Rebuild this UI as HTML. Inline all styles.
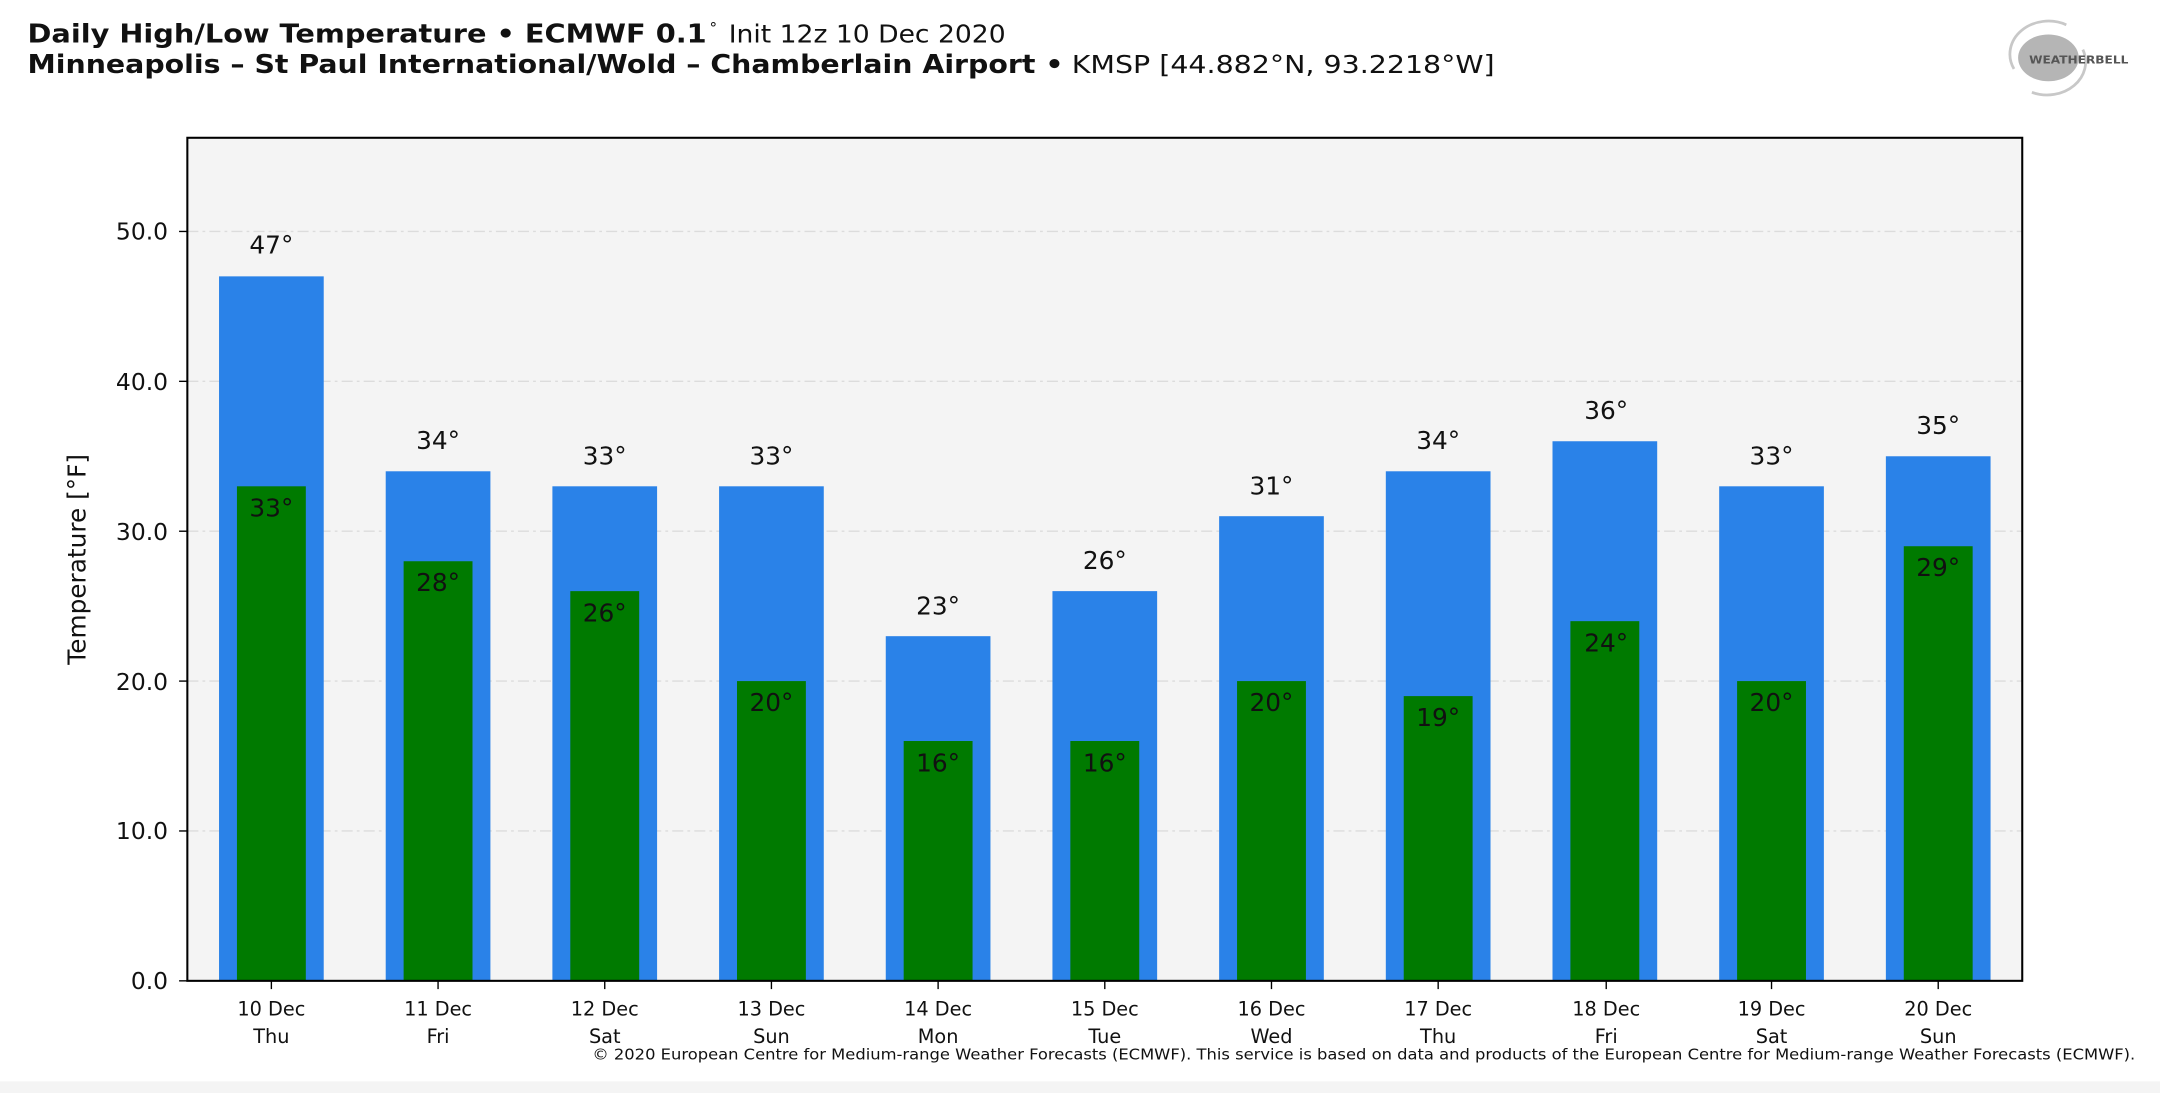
<!DOCTYPE html>
<html><head><meta charset="utf-8"><style>
html,body{margin:0;padding:0;background:#fff;}
svg{display:block;}
text{font-family:"DejaVu Sans","Liberation Sans",sans-serif;fill:#111;}
</style></head><body>
<svg width="2160" height="1093" viewBox="0 0 1568 793.4" xmlns="http://www.w3.org/2000/svg">
<rect x="0" y="0" width="1568" height="793.4" fill="#fff"/>
<rect x="0" y="785" width="1568" height="9" fill="#f4f4f4"/>
<text x="20" y="31" font-size="19" font-weight="bold" textLength="493" lengthAdjust="spacingAndGlyphs">Daily High/Low Temperature • ECMWF 0.1</text>
<text x="515" y="24" font-size="11">°</text>
<text x="529" y="31" font-size="18" textLength="201" lengthAdjust="spacingAndGlyphs">Init 12z 10 Dec 2020</text>
<text x="20" y="53" font-size="19" font-weight="bold" textLength="752" lengthAdjust="spacingAndGlyphs">Minneapolis – St Paul International/Wold – Chamberlain Airport •</text>
<text x="778" y="53" font-size="18" textLength="307" lengthAdjust="spacingAndGlyphs">KMSP [44.882°N, 93.2218°W]</text>
<ellipse cx="1487" cy="42" rx="22" ry="17" fill="#b5b5b5"/>
<path d="M1462 50 A28 24 0 0 1 1500 18" fill="none" stroke="#c8c8c8" stroke-width="2"/>
<path d="M1512 36 A28 24 0 0 1 1475 67" fill="none" stroke="#c8c8c8" stroke-width="2"/>
<text x="1473" y="46" font-size="8" font-weight="bold" style="fill:#555" font-family="Liberation Serif,serif" textLength="72" lengthAdjust="spacingAndGlyphs">WEATHERBELL</text>
<rect x="136" y="100" width="1332" height="612" fill="#f4f4f4"/>
<g stroke="#dcdcdc" stroke-width="1" stroke-dasharray="8,3,2,3">
<line x1="136" x2="1468" y1="168" y2="168"/>
<line x1="136" x2="1468" y1="276.8" y2="276.8"/>
<line x1="136" x2="1468" y1="385.6" y2="385.6"/>
<line x1="136" x2="1468" y1="494.4" y2="494.4"/>
<line x1="136" x2="1468" y1="603.2" y2="603.2"/>
</g>
<g fill="#2a82e8">
<rect x="159" y="200.6" width="76" height="511.4"/>
<rect x="280" y="342.1" width="76" height="369.9"/>
<rect x="401" y="353.0" width="76" height="359"/>
<rect x="522" y="353.0" width="76" height="359"/>
<rect x="643" y="461.8" width="76" height="250.2"/>
<rect x="764" y="429.1" width="76" height="282.9"/>
<rect x="885" y="374.7" width="76" height="337.3"/>
<rect x="1006" y="342.1" width="76" height="369.9"/>
<rect x="1127" y="320.3" width="76" height="391.7"/>
<rect x="1248" y="353.0" width="76" height="359"/>
<rect x="1369" y="331.2" width="76" height="380.8"/>
</g>
<g fill="#007a00">
<rect x="172" y="353.0" width="50" height="359"/>
<rect x="293" y="407.4" width="50" height="304.6"/>
<rect x="414" y="429.1" width="50" height="282.9"/>
<rect x="535" y="494.4" width="50" height="217.6"/>
<rect x="656" y="537.9" width="50" height="174.1"/>
<rect x="777" y="537.9" width="50" height="174.1"/>
<rect x="898" y="494.4" width="50" height="217.6"/>
<rect x="1019" y="505.3" width="50" height="206.7"/>
<rect x="1140" y="450.9" width="50" height="261.1"/>
<rect x="1261" y="494.4" width="50" height="217.6"/>
<rect x="1382" y="396.5" width="50" height="315.5"/>
</g>
<g font-size="18" text-anchor="middle">
<text x="197" y="184">47°</text>
<text x="318" y="326">34°</text>
<text x="439" y="337">33°</text>
<text x="560" y="337">33°</text>
<text x="681" y="446">23°</text>
<text x="802" y="413">26°</text>
<text x="923" y="359">31°</text>
<text x="1044" y="326">34°</text>
<text x="1166" y="304">36°</text>
<text x="1286" y="337">33°</text>
<text x="1407" y="315">35°</text>
<text x="197" y="375">33°</text>
<text x="318" y="429">28°</text>
<text x="439" y="451">26°</text>
<text x="560" y="516">20°</text>
<text x="681" y="560">16°</text>
<text x="802" y="560">16°</text>
<text x="923" y="516">20°</text>
<text x="1044" y="527">19°</text>
<text x="1166" y="473">24°</text>
<text x="1286" y="516">20°</text>
<text x="1407" y="418">29°</text>
</g>
<rect x="136" y="100" width="1332" height="612" fill="none" stroke="#000" stroke-width="1.5"/>
<g stroke="#000" stroke-width="1">
<line x1="130" x2="136" y1="168" y2="168"/><line x1="130" x2="136" y1="276.8" y2="276.8"/>
<line x1="130" x2="136" y1="385.6" y2="385.6"/><line x1="130" x2="136" y1="494.4" y2="494.4"/>
<line x1="130" x2="136" y1="603.2" y2="603.2"/><line x1="130" x2="136" y1="712" y2="712"/>
<line x1="197" x2="197" y1="712" y2="718"/><line x1="318" x2="318" y1="712" y2="718"/>
<line x1="439" x2="439" y1="712" y2="718"/><line x1="560" x2="560" y1="712" y2="718"/>
<line x1="681" x2="681" y1="712" y2="718"/><line x1="802" x2="802" y1="712" y2="718"/>
<line x1="923" x2="923" y1="712" y2="718"/><line x1="1044" x2="1044" y1="712" y2="718"/>
<line x1="1166" x2="1166" y1="712" y2="718"/><line x1="1286" x2="1286" y1="712" y2="718"/>
<line x1="1407" x2="1407" y1="712" y2="718"/>
</g>
<g font-size="17" text-anchor="end">
<text x="122" y="174">50.0</text><text x="122" y="283">40.0</text>
<text x="122" y="392">30.0</text><text x="122" y="501">20.0</text>
<text x="122" y="609">10.0</text><text x="122" y="718">0.0</text>
</g>
<text transform="translate(62,406) rotate(-90)" font-size="18" text-anchor="middle">Temperature [°F]</text>
<g font-size="14" text-anchor="middle">
<text x="197" y="737">10 Dec</text><text x="197" y="757">Thu</text>
<text x="318" y="737">11 Dec</text><text x="318" y="757">Fri</text>
<text x="439" y="737">12 Dec</text><text x="439" y="757">Sat</text>
<text x="560" y="737">13 Dec</text><text x="560" y="757">Sun</text>
<text x="681" y="737">14 Dec</text><text x="681" y="757">Mon</text>
<text x="802" y="737">15 Dec</text><text x="802" y="757">Tue</text>
<text x="923" y="737">16 Dec</text><text x="923" y="757">Wed</text>
<text x="1044" y="737">17 Dec</text><text x="1044" y="757">Thu</text>
<text x="1166" y="737">18 Dec</text><text x="1166" y="757">Fri</text>
<text x="1286" y="737">19 Dec</text><text x="1286" y="757">Sat</text>
<text x="1407" y="737">20 Dec</text><text x="1407" y="757">Sun</text>
</g>
<text x="430" y="769" font-size="11" textLength="1120" lengthAdjust="spacingAndGlyphs">© 2020 European Centre for Medium-range Weather Forecasts (ECMWF). This service is based on data and products of the European Centre for Medium-range Weather Forecasts (ECMWF).</text>
</svg>
</body></html>
